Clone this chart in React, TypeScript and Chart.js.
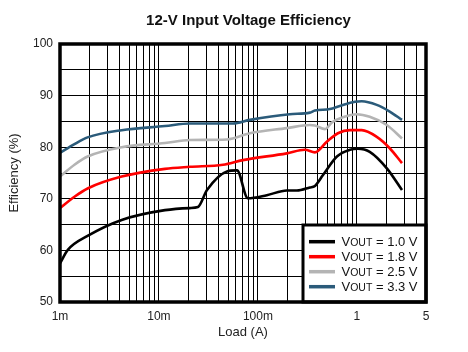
import React, { useEffect, useRef } from "react";
import { Chart, registerables } from "chart.js";

Chart.register(...registerables);

const FONT = '"Liberation Sans", Arial, Helvetica, sans-serif';

const chartTitle = "12-V Input Voltage Efficiency";
const xTitle = "Load (A)";
const yTitle = "Efficiency (%)";

// Log grid positions of the x axis (A)
const loadGrid = [
  0.001, 0.002, 0.003, 0.004, 0.005, 0.006, 0.007, 0.008, 0.009,
  0.01, 0.02, 0.03, 0.04, 0.05, 0.06, 0.07, 0.08, 0.09,
  0.1, 0.2, 0.3, 0.4, 0.5, 0.6, 0.7, 0.8, 0.9,
  1, 2, 3, 4, 5,
];
const loadLabelValues = [0.001, 0.01, 0.1, 1, 5];
const loadLabels = ["1m", "10m", "100m", "1", "5"];

const yMin = 50;
const yMax = 100;
const yGridStep = 5;
const yLabelStep = 10;

const seriesNames = ["1.0 V", "1.8 V", "2.5 V", "3.3 V"];
const seriesColors = ["#000000", "#ff0000", "#b4b4b4", "#2b5b7a"];

// VOUT = 1.0 V
const load10 = [0.001, 0.0012, 0.0019, 0.0042, 0.0115, 0.0205, 0.0248, 0.0306, 0.0487, 0.0615, 0.0792, 0.123, 0.196, 0.248, 0.335, 0.377, 0.455, 0.629, 0.851, 1.025, 1.35, 2.01, 2.86];
const eff10 = [57.5, 60.1, 62.8, 65.9, 67.8, 68.2, 68.4, 71.7, 75.3, 75.5, 70.1, 70.7, 71.6, 71.6, 72.2, 72.5, 74.6, 78.2, 79.5, 79.7, 79.1, 75.9, 71.7];

// VOUT = 1.8 V
const load18 = [0.001, 0.0014, 0.0019, 0.0042, 0.0115, 0.0205, 0.0444, 0.0705, 0.196, 0.298, 0.377, 0.5, 0.644, 0.851, 1.12, 1.59, 2.15, 2.86];
const eff18 = [68.2, 70.4, 72.0, 74.3, 75.8, 76.2, 76.6, 77.5, 78.8, 79.5, 79.0, 81.1, 82.7, 83.3, 83.3, 82.0, 79.8, 76.9];

// VOUT = 2.5 V
const load25 = [0.001, 0.0014, 0.0019, 0.0042, 0.0115, 0.0205, 0.0487, 0.083, 0.196, 0.335, 0.377, 0.477, 0.56, 0.722, 1.0, 1.35, 2.01, 2.86];
const eff25 = [74.3, 76.6, 78.2, 80.0, 80.8, 81.4, 81.5, 82.7, 83.7, 84.3, 84.2, 83.5, 84.8, 85.8, 86.4, 85.9, 84.3, 81.7];

// VOUT = 3.3 V
const load33 = [0.001, 0.0014, 0.0019, 0.0042, 0.0115, 0.0205, 0.056, 0.083, 0.21, 0.335, 0.377, 0.534, 0.673, 0.958, 1.12, 1.59, 2.15, 2.86];
const eff33 = [78.9, 80.6, 81.9, 83.3, 84.1, 84.6, 84.6, 85.3, 86.4, 86.7, 87.1, 87.4, 88.0, 88.8, 88.9, 88.2, 86.9, 85.3];

const seriesLoads = [load10, load18, load25, load33];
const seriesEffs = [eff10, eff18, eff25, eff33];

const framePlugin = {
  id: "frameAndLegend",
  afterDraw(chart: any) {
    const { ctx, chartArea: a } = chart;
    ctx.save();

    // Title
    ctx.fillStyle = "#111";
    ctx.font = `bold 15px ${FONT}`;
    ctx.textAlign = "center";
    ctx.textBaseline = "middle";
    ctx.fillText(chartTitle, (a.left + a.right) / 2 + 5.5, 21);

    // Legend box
    const w = 123;
    const h = 77;
    const x0 = a.right - w;
    const y0 = a.bottom - h;
    ctx.fillStyle = "#ffffff";
    ctx.fillRect(x0, y0, w, h);
    ctx.strokeStyle = "#000";
    ctx.lineWidth = 3;
    ctx.strokeRect(x0, y0, w, h);

    seriesNames.forEach((name, i) => {
      const cy = y0 + 16.7 + i * 15;
      ctx.strokeStyle = seriesColors[i];
      ctx.lineWidth = 3.5;
      ctx.beginPath();
      ctx.moveTo(x0 + 6, cy);
      ctx.lineTo(x0 + 32, cy);
      ctx.stroke();

      const base = cy + 4.6;
      let tx = x0 + 38.5;
      ctx.fillStyle = "#111";
      ctx.textAlign = "left";
      ctx.textBaseline = "alphabetic";
      ctx.font = `13px ${FONT}`;
      ctx.fillText("V", tx, base);
      tx += ctx.measureText("V").width;
      ctx.font = `10.5px ${FONT}`;
      ctx.fillText("OUT", tx, base);
      tx += ctx.measureText("OUT").width;
      ctx.font = `13px ${FONT}`;
      ctx.fillText(" = " + name, tx, base);
    });

    // Plot frame
    ctx.strokeStyle = "#000";
    ctx.lineWidth = 3.5;
    ctx.strokeRect(a.left, a.top, a.right - a.left, a.bottom - a.top);
    ctx.restore();
  },
};

export default function App() {
  const ref = useRef<HTMLCanvasElement | null>(null);

  useEffect(() => {
    if (!ref.current) return;
    const datasets = seriesNames.map((name, i) => ({
      label: "VOUT = " + name,
      data: seriesLoads[i].map((x, j) => ({ x, y: seriesEffs[i][j] })),
      borderColor: seriesColors[i],
      backgroundColor: seriesColors[i],
      borderWidth: 2.6,
      pointRadius: 0,
      fill: false,
      cubicInterpolationMode: "monotone" as const,
    }));

    const chart = new Chart(ref.current, {
      type: "line",
      data: { datasets },
      options: {
        animation: false,
        responsive: false,
        devicePixelRatio: 1,
        layout: { padding: { top: 44, right: 42, left: 0, bottom: 0 } },
        plugins: {
          legend: { display: false },
          title: { display: false },
          tooltip: { enabled: false },
        },
        scales: {
          x: {
            type: "logarithmic",
            min: 0.001,
            max: 5,
            afterBuildTicks: (s: any) => {
              s.ticks = loadGrid.map((v) => ({ value: v }));
            },
            afterFit: (s: any) => {
              s.height = 50;
            },
            grid: { color: "#000", lineWidth: 1, drawTicks: false },
            border: { display: false },
            ticks: {
              autoSkip: false,
              maxRotation: 0,
              padding: 7,
              color: "#222",
              font: { family: FONT, size: 12 },
              callback: (v: any) => {
                const k = loadLabelValues.findIndex((t) => Math.abs(t - Number(v)) < 1e-9);
                return k >= 0 ? loadLabels[k] : "";
              },
            },
            title: {
              display: true,
              text: xTitle,
              color: "#222",
              font: { family: FONT, size: 13 },
              padding: { top: 0, bottom: 12 },
            },
          },
          y: {
            type: "linear",
            min: yMin,
            max: yMax,
            afterFit: (s: any) => {
              s.width = 60;
            },
            grid: { color: "#000", lineWidth: 1, drawTicks: false },
            border: { display: false },
            ticks: {
              stepSize: yGridStep,
              padding: 7,
              color: "#222",
              font: { family: FONT, size: 12 },
              callback: (v: any) => (Number(v) % yLabelStep === 0 ? String(v) : ""),
            },
            title: {
              display: true,
              text: yTitle,
              color: "#222",
              font: { family: FONT, size: 13 },
              padding: { top: 7, bottom: 0 },
            },
          },
        },
      },
      plugins: [framePlugin],
    });
    return () => chart.destroy();
  }, []);

  return (
    <div style={{ position: "absolute", left: 0, top: 0, width: 468, height: 352, background: "#fff" }}>
      <canvas ref={ref} width={468} height={352} style={{ width: 468, height: 352, display: "block" }} />
    </div>
  );
}
